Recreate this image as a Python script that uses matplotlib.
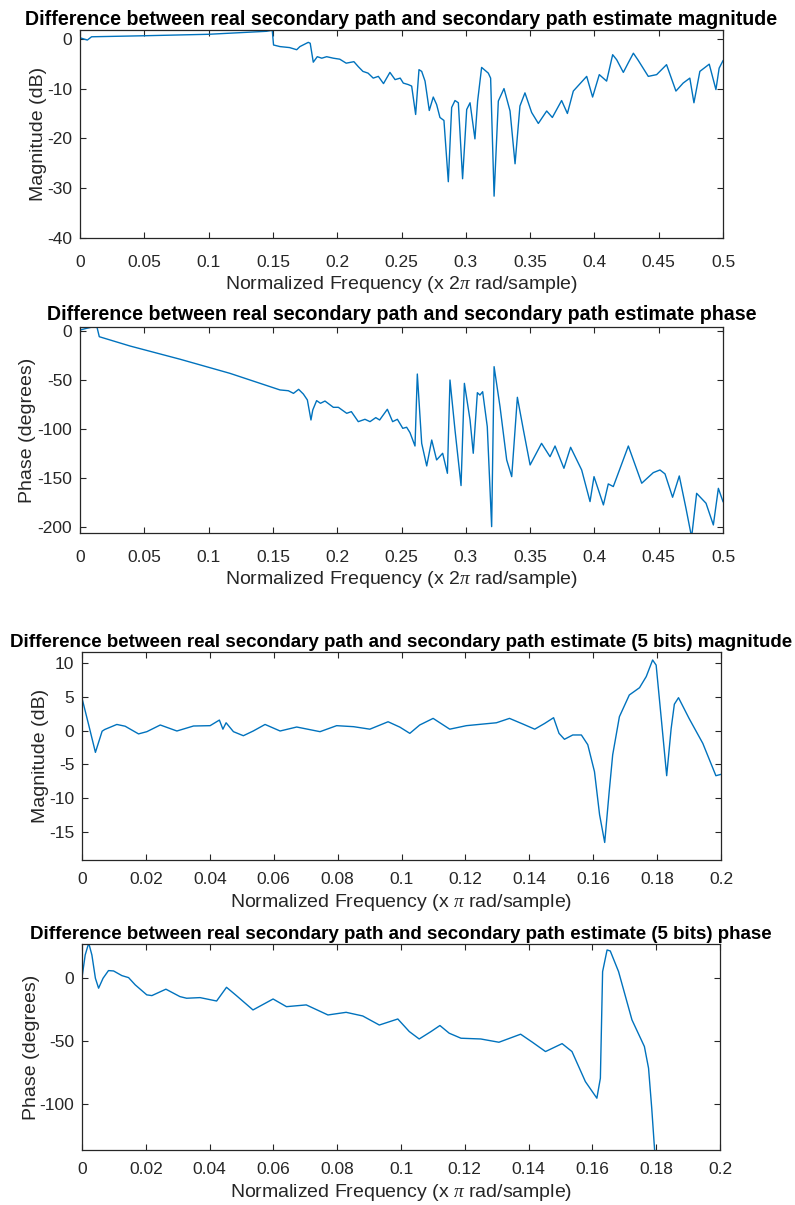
import numpy as np
import matplotlib
matplotlib.use('Agg')
import matplotlib.pyplot as plt
from matplotlib.ticker import FuncFormatter

plt.rcParams['font.family'] = ['Liberation Sans', 'DejaVu Sans']
plt.rcParams['axes.unicode_minus'] = False
plt.rcParams['mathtext.fontset'] = 'custom'
plt.rcParams['mathtext.rm'] = 'Liberation Serif'
plt.rcParams['mathtext.it'] = 'Liberation Serif:italic'

## full band magnitude (dB) vs normalized frequency (x 2pi rad/sample)
mag_freq = [0.0, 0.0057, 0.009, 0.049, 0.1, 0.145, 0.1495, 0.1505, 0.1555,
            0.163, 0.1685, 0.171, 0.1775, 0.179, 0.1814, 0.1845, 0.188,
            0.1918, 0.197, 0.202, 0.207, 0.213, 0.2164, 0.22, 0.224, 0.228,
            0.232, 0.236, 0.241, 0.245, 0.249, 0.2514, 0.2553, 0.2579,
            0.261, 0.2636, 0.2657, 0.2683, 0.2716, 0.2747, 0.2773, 0.2799,
            0.283, 0.2864, 0.289, 0.2916, 0.2942, 0.2975, 0.3007, 0.3033,
            0.3071, 0.3092, 0.3123, 0.3175, 0.3193, 0.322, 0.3253, 0.3297,
            0.3344, 0.3383, 0.3421, 0.346, 0.3512, 0.3564, 0.3629, 0.3673,
            0.3745, 0.379, 0.3836, 0.394, 0.3986, 0.4038, 0.4095, 0.4142,
            0.4173, 0.4225, 0.4264, 0.4303, 0.434, 0.4419, 0.4484, 0.4561,
            0.4634, 0.469, 0.4742, 0.4774, 0.482, 0.4893, 0.4945, 0.497, 0.5]
mag_db = [0.2, -0.26, 0.4, 0.6, 0.9, 1.5, 1.7, -1.25, -1.57,
          -1.77, -2.2, -1.57, -0.72, -0.9, -4.7, -3.6, -3.9,
          -3.6, -3.9, -4.1, -4.9, -4.6, -5.6, -6.55, -6.9, -7.9,
          -7.55, -9.0, -6.75, -8.2, -7.9, -8.9, -9.2, -9.5,
          -15.2, -6.2, -6.55, -8.5, -14.4, -11.7, -13.2, -15.8,
          -16.4, -28.7, -13.8, -12.4, -12.85, -28.1, -14.2, -12.85,
          -20.1, -12.5, -5.75, -6.9, -7.9, -31.6, -12.5, -10.0,
          -14.5, -25.1, -13.5, -10.86, -14.8, -17.0, -14.5, -15.8,
          -12.4, -15.0, -10.5, -7.55, -11.7, -7.2, -8.5, -3.2,
          -4.2, -6.75, -4.8, -2.9, -4.3, -7.55, -7.2, -5.2,
          -10.5, -8.9, -7.9, -12.85, -6.55, -5.1, -10.2, -5.9, -4.4]

## full band phase (degrees)
ph_freq = [0.0, 0.005, 0.013, 0.015, 0.039, 0.078, 0.1166, 0.1555, 0.162,
           0.166, 0.17, 0.1737, 0.1768, 0.1796, 0.181, 0.184, 0.187,
           0.1905, 0.197, 0.2009, 0.2074, 0.211, 0.2164, 0.2216, 0.2255,
           0.23, 0.233, 0.239, 0.2431, 0.2468, 0.251, 0.254, 0.2566,
           0.2605, 0.2623, 0.2657, 0.2696, 0.2735, 0.2773, 0.282, 0.2857,
           0.2877, 0.2916, 0.2963, 0.2989, 0.3033, 0.3058, 0.309, 0.311,
           0.3131, 0.3167, 0.3201, 0.322, 0.3266, 0.3318, 0.3357, 0.3401,
           0.3448, 0.35, 0.3589, 0.3655, 0.3694, 0.3763, 0.3815, 0.3901,
           0.3966, 0.3997, 0.407, 0.4108, 0.4147, 0.4264, 0.4368, 0.4458,
           0.451, 0.4549, 0.4608, 0.466, 0.4712, 0.4756, 0.4795, 0.4868,
           0.4925, 0.4964, 0.5]
ph_deg = [1.0, 2.7, 5.1, -5.8, -15.3, -28.8, -43.1, -60.0, -60.8,
          -63.5, -59.4, -64.2, -70.2, -90.6, -80.4, -70.9, -73.6,
          -71.3, -77.7, -77.7, -83.8, -82.1, -92.3, -89.9, -92.3,
          -88.2, -90.6, -79.7, -92.3, -89.9, -99.1, -98.0, -103.5,
          -117.1, -43.8, -114.4, -137.4, -111.0, -131.3, -124.5, -144.9,
          -49.9, -100.8, -157.4, -53.3, -90.6, -124.5, -62.8, -65.2,
          -61.8, -97.4, -199.2, -36.3, -77.0, -131.3, -148.3, -67.5,
          -100.8, -136.4, -114.4, -128.0, -117.1, -139.8, -118.4, -141.5,
          -173.7, -148.3, -177.1, -155.7, -158.4, -117.1, -155.0, -144.2,
          -141.5, -145.5, -169.3, -147.6, -180.5, -210.0, -165.3, -175.4,
          -197.5, -160.2, -173.7]

## 5 bits magnitude (dB) vs normalized frequency (x pi rad/sample)
mag5_freq = [0.0, 0.0021, 0.0042, 0.0063, 0.0071, 0.0109, 0.0135, 0.0177,
             0.0203, 0.0245, 0.0297, 0.0349, 0.0401, 0.043, 0.0441, 0.0451,
             0.0474, 0.0505, 0.0536, 0.0573, 0.062, 0.0672, 0.0745, 0.0797,
             0.085, 0.0901, 0.0958, 0.0995, 0.1026, 0.1057, 0.1099, 0.1151,
             0.1203, 0.1255, 0.1297, 0.1338, 0.138, 0.1417, 0.1448, 0.1476,
             0.1493, 0.151, 0.1536, 0.1563, 0.1583, 0.1604, 0.162, 0.1636,
             0.165, 0.1661, 0.1682, 0.1713, 0.1745, 0.1766, 0.1786, 0.1797,
             0.1813, 0.183, 0.1844, 0.1854, 0.1867, 0.19, 0.1943, 0.1984, 0.2]
mag5_db = [4.8, 0.82, -3.24, -0.1, 0.15, 0.9, 0.64, -0.5,
           -0.17, 0.82, -0.07, 0.67, 0.72, 1.55, 0.2, 1.15,
           -0.17, -0.77, -0.07, 0.9, -0.07, 0.52, -0.17, 0.72,
           0.57, 0.2, 1.3, 0.5, -0.42, 0.82, 1.8, 0.2,
           0.72, 0.96, 1.15, 1.8, 0.96, 0.2, 1.05, 1.9,
           -0.42, -1.3, -0.66, -0.66, -2.1, -6.1, -12.5, -16.6,
           -9.1, -3.6, 2.05, 5.27, 6.35, 8.0, 10.46, 9.7,
           1.8, -6.7, 0.3, 3.9, 4.87, 1.8, -1.9, -6.7, -6.5]

## 5 bits phase (degrees)
ph5_freq = [0.0, 0.001, 0.0021, 0.0031, 0.0042, 0.0052, 0.0066, 0.0083,
            0.0099, 0.0125, 0.0146, 0.0167, 0.0203, 0.0219, 0.0263, 0.0307,
            0.0328, 0.037, 0.0422, 0.0453, 0.0484, 0.0536, 0.0599, 0.0641,
            0.0703, 0.0771, 0.0828, 0.088, 0.0932, 0.099, 0.1026, 0.1057,
            0.1094, 0.1122, 0.1151, 0.1188, 0.125, 0.1307, 0.1375, 0.1412,
            0.1453, 0.1505, 0.1536, 0.1578, 0.1614, 0.1625, 0.1632, 0.1646,
            0.1656, 0.1682, 0.1724, 0.1763, 0.1776, 0.1786, 0.1795, 0.1805]
ph5_deg = [0.5, 18.5, 28.0, 18.5, 0.0, -7.9, 0.0, 6.1,
           5.8, 2.1, 0.5, -5.3, -13.2, -13.8, -8.7, -14.6,
           -15.9, -15.4, -18.1, -7.2, -13.8, -25.2, -16.5, -22.6,
           -21.2, -29.2, -27.1, -30.0, -37.2, -32.4, -42.4, -48.3,
           -42.4, -37.6, -43.7, -47.7, -48.3, -50.9, -44.5, -50.9,
           -58.3, -52.0, -58.3, -82.2, -95.4, -79.5, 5.3, 22.5,
           21.7, 5.3, -33.1, -54.3, -71.5, -103.4, -136.6, -160.0]

W, H = 795, 1205
LINE_COLOR = '#0072BD'
AX_COLOR = '#262626'
TICK_SIZE = 12.5
LABEL_SIZE = 14


def make_axes(fig, left, right, top, bottom, xpad):
    ax = fig.add_axes([left / W, 1 - bottom / H,
                       (right - left) / W, (bottom - top) / H])
    for sp in ax.spines.values():
        sp.set_color(AX_COLOR)
        sp.set_linewidth(0.9)
    ax.tick_params(direction='in', top=True, right=True, length=4,
                   width=0.8, color=AX_COLOR, labelcolor=AX_COLOR,
                   labelsize=TICK_SIZE)
    ax.tick_params(axis='x', pad=xpad)
    ax.tick_params(axis='y', pad=5.5)
    ax.xaxis.set_major_formatter(FuncFormatter(lambda v, p: '%g' % round(v, 4)))
    ax.yaxis.set_major_formatter(FuncFormatter(lambda v, p: '%g' % round(v, 4)))
    return ax


fig = plt.figure(figsize=(W / 100, H / 100), dpi=100)
label_kw = dict(fontsize=LABEL_SIZE, color=AX_COLOR)

# panel 1
ax1 = make_axes(fig, 80, 723, 30.3, 238, 12)
ax1.plot(mag_freq, mag_db, color=LINE_COLOR, lw=1.0)
ax1.set_xlim(0, 0.5)
ax1.set_ylim(-40, 1.7)
ax1.set_xticks(np.arange(0, 0.501, 0.05))
ax1.set_yticks([-40, -30, -20, -10, 0])
ax1.set_title('Difference between real secondary path and secondary path estimate magnitude',
              fontsize=14.1, fontweight='bold', color='black', pad=4)
ax1.set_xlabel(r'Normalized Frequency (x 2$\pi$ rad/sample)', labelpad=3, **label_kw)
ax1.set_ylabel('Magnitude (dB)', labelpad=0, **label_kw)

# panel 2
ax2 = make_axes(fig, 80, 723, 326.7, 533.3, 12)
ax2.plot(ph_freq, ph_deg, color=LINE_COLOR, lw=1.0)
ax2.set_xlim(0, 0.5)
ax2.set_ylim(-206, 4.4)
ax2.set_xticks(np.arange(0, 0.501, 0.05))
ax2.set_yticks([-200, -150, -100, -50, 0])
ax2.set_title('Difference between real secondary path and secondary path estimate phase',
              fontsize=14.1, fontweight='bold', color='black', pad=5)
ax2.set_xlabel(r'Normalized Frequency (x 2$\pi$ rad/sample)', labelpad=3, **label_kw)
ax2.set_ylabel('Phase (degrees)', labelpad=1, **label_kw)

# panel 3
ax3 = make_axes(fig, 82, 721, 652.3, 860, 9)
ax3.plot(mag5_freq, mag5_db, color=LINE_COLOR, lw=1.0)
ax3.set_xlim(0, 0.2)
ax3.set_ylim(-19.2, 11.6)
ax3.set_xticks(np.arange(0, 0.201, 0.02))
ax3.set_yticks([-15, -10, -5, 0, 5, 10])
ax3.set_title('Difference between real secondary path and secondary path estimate (5 bits) magnitude',
              fontsize=13.5, fontweight='bold', color='black', pad=4)
ax3.set_xlabel(r'Normalized Frequency (x $\pi$ rad/sample)', labelpad=3, **label_kw)
ax3.set_ylabel('Magnitude (dB)', labelpad=0, **label_kw)

# panel 4
ax4 = make_axes(fig, 82, 720, 944.3, 1150, 9)
ax4.plot(ph5_freq, ph5_deg, color=LINE_COLOR, lw=1.0)
ax4.set_xlim(0, 0.2)
ax4.set_ylim(-136.6, 27)
ax4.set_xticks(np.arange(0, 0.201, 0.02))
ax4.set_yticks([-100, -50, 0])
ax4.set_title('Difference between real secondary path and secondary path estimate (5 bits) phase',
              fontsize=13.5, fontweight='bold', color='black', pad=4)
ax4.set_xlabel(r'Normalized Frequency (x $\pi$ rad/sample)', labelpad=3, **label_kw)
ax4.set_ylabel('Phase (degrees)', labelpad=0, **label_kw)

fig.savefig('out.png', dpi=100)
plt.close('all')
